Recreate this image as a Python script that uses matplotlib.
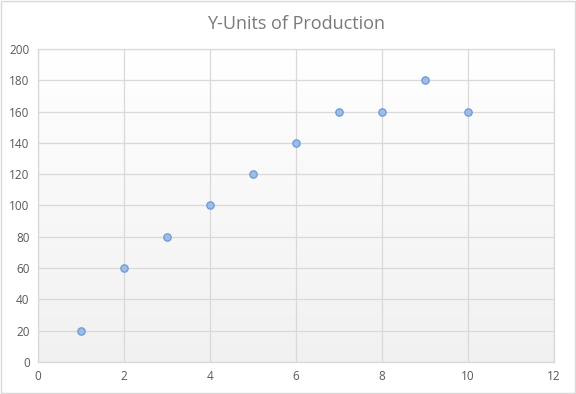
import numpy as np
import matplotlib
matplotlib.use("Agg")
import matplotlib.pyplot as plt
from matplotlib.patches import Rectangle

# data
x_vals = [1, 2, 3, 4, 5, 6, 7, 8, 9, 10]
y_vals = [20, 60, 80, 100, 120, 140, 160, 160, 180, 160]
x_ticks = [0, 2, 4, 6, 8, 10, 12]
y_ticks = [0, 20, 40, 60, 80, 100, 120, 140, 160, 180, 200]

plt.rcParams["font.family"] = ["Open Sans", "DejaVu Sans"]

fig = plt.figure(figsize=(5.76, 3.94), dpi=100)
ax = fig.add_axes([0.066, 0.081, 0.896, 0.795])

# Excel-like vertical gradient in the plot area
grad = np.linspace(1.0, 0.945, 256).reshape(-1, 1)
ax.imshow(np.dstack([grad, grad, grad]), extent=[0, 12, 0, 200], aspect="auto",
          origin="upper", zorder=0)

ax.scatter(x_vals, y_vals, s=28, c="#9dbde6", edgecolors="#6a9ad6", linewidths=0.9, zorder=3)

ax.set_xlim(0, 12)
ax.set_ylim(0, 200)
ax.set_xticks(x_ticks)
ax.set_yticks(y_ticks)
ax.grid(True, color="#d9d9d9", lw=0.9, zorder=1)
ax.set_axisbelow(False)
for s in ax.spines.values():
    s.set_color("#d9d9d9")
    s.set_linewidth(0.9)
ax.tick_params(length=0, labelsize=8.5, labelcolor="#595959", pad=6)

ax.set_title("Y-Units of Production", fontsize=13, color="#7a7a7a", pad=14)

fig.patches.append(Rectangle((0.002, 0.002), 0.996, 0.996, transform=fig.transFigure,
                             fill=False, edgecolor="#d9d9d9", lw=1))

fig.savefig("out.png", dpi=100)
